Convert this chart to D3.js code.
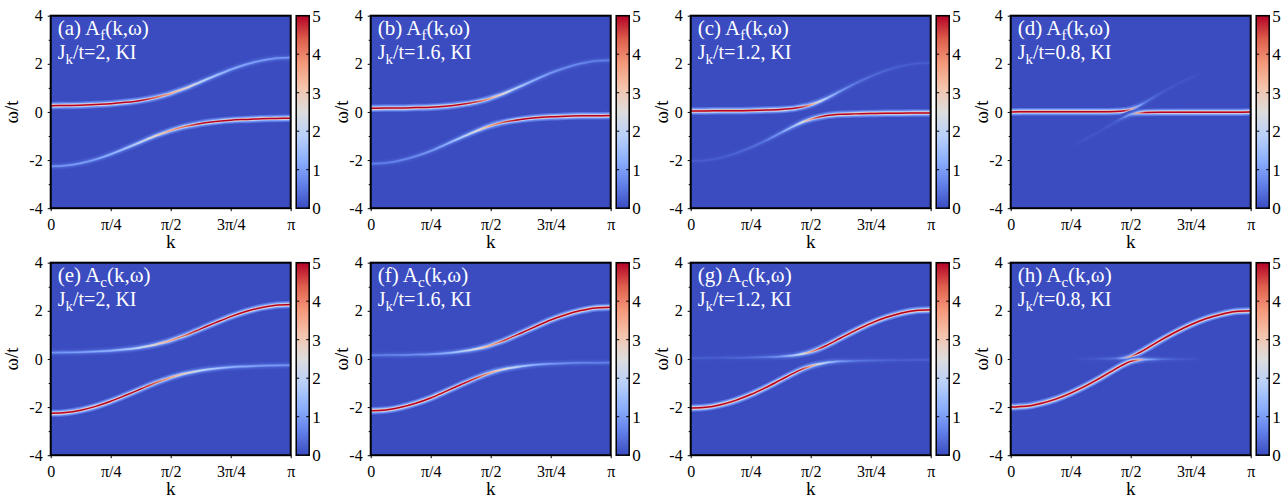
<!DOCTYPE html>
<html><head><meta charset="utf-8">
<script src="https://cdn.jsdelivr.net/npm/d3@7"></script>
<style>
body{margin:0;background:#fff}
svg{display:block}
svg text{font-family:"Liberation Serif","Times New Roman",Tinos,"Nimbus Roman","DejaVu Serif",serif !important}
</style>
</head><body>
<svg id="chart" width="1288" height="499"></svg>
<script>
// ---------- data ----------
// k grid in units of pi
const kGrid = [0,0.0625,0.125,0.1875,0.25,0.3125,0.375,0.4375,0.46875,0.5,0.53125,0.5625,0.625,0.6875,0.75,0.8125,0.875,0.9375,1];
const kTickValues = [0,0.25,0.5,0.75,1];
const kTickLabels = ["0","π/4","π/2","3π/4","π"];
const omegaTicks = [-4,-2,0,2,4];
const omegaMinorTicks = [-3,-1,1,3];
const cbarTicks = [0,1,2,3,4,5];
const jkLabels = ["2","1.6","1.2","0.8"];
const panelLettersF = ["a","b","c","d"];
const panelLettersC = ["e","f","g","h"];

// band energies (omega/t)
const upperJ2  = [0.26,0.27,0.28,0.31,0.34,0.40,0.48,0.60,0.68,0.77,0.88,0.99,1.25,1.51,1.76,1.97,2.13,2.23,2.26];
const lowerJ2  = [-2.26,-2.23,-2.13,-1.97,-1.76,-1.51,-1.25,-0.99,-0.88,-0.77,-0.68,-0.60,-0.48,-0.40,-0.34,-0.31,-0.28,-0.27,-0.26];
const upperJ16 = [0.15,0.16,0.16,0.18,0.20,0.24,0.31,0.41,0.48,0.57,0.68,0.80,1.07,1.35,1.62,1.84,2.01,2.12,2.15];
const lowerJ16 = [-2.15,-2.12,-2.01,-1.84,-1.62,-1.35,-1.07,-0.80,-0.68,-0.57,-0.48,-0.41,-0.31,-0.24,-0.20,-0.18,-0.16,-0.16,-0.15];
const upperJ12 = [0.04,0.04,0.05,0.05,0.06,0.08,0.10,0.16,0.22,0.30,0.41,0.55,0.87,1.19,1.48,1.72,1.90,2.01,2.04];
const lowerJ12 = [-2.04,-2.01,-1.90,-1.72,-1.48,-1.19,-0.87,-0.55,-0.41,-0.30,-0.22,-0.16,-0.10,-0.08,-0.06,-0.05,-0.05,-0.04,-0.04];
const upperJ08 = [0.00,0.01,0.01,0.01,0.01,0.01,0.01,0.02,0.04,0.10,0.24,0.41,0.78,1.12,1.42,1.67,1.85,1.97,2.00];
const lowerJ08 = [-2.00,-1.97,-1.85,-1.67,-1.42,-1.12,-0.78,-0.41,-0.24,-0.10,-0.04,-0.02,-0.01,-0.01,-0.01,-0.01,-0.01,-0.01,0.00];

// f-electron spectral weight of each band (c weight is the remainder)
const upperFwJ2  = [0.90,0.89,0.88,0.86,0.84,0.79,0.72,0.62,0.56,0.50,0.44,0.38,0.28,0.21,0.16,0.13,0.12,0.11,0.10];
const lowerFwJ2  = [0.10,0.11,0.12,0.13,0.16,0.21,0.28,0.38,0.44,0.50,0.56,0.62,0.72,0.79,0.84,0.86,0.88,0.89,0.90];
const upperFwJ16 = [0.93,0.93,0.92,0.91,0.89,0.85,0.78,0.66,0.58,0.50,0.42,0.34,0.22,0.15,0.11,0.09,0.08,0.07,0.07];
const lowerFwJ16 = [0.07,0.07,0.08,0.09,0.11,0.15,0.22,0.34,0.42,0.50,0.58,0.66,0.78,0.85,0.89,0.91,0.92,0.93,0.93];
const upperFwJ12 = [0.98,0.98,0.98,0.97,0.96,0.94,0.89,0.77,0.66,0.50,0.35,0.23,0.11,0.06,0.04,0.03,0.02,0.02,0.02];
const lowerFwJ12 = [0.02,0.02,0.02,0.03,0.04,0.06,0.11,0.23,0.35,0.50,0.66,0.77,0.89,0.94,0.96,0.97,0.98,0.98,0.98];
const upperFwJ08 = [1.00,1.00,1.00,1.00,1.00,0.99,0.98,0.95,0.85,0.50,0.15,0.06,0.02,0.01,0.01,0.00,0.00,0.00,0.00];
const lowerFwJ08 = [0.00,0.00,0.00,0.00,0.00,0.01,0.01,0.02,0.06,0.15,0.50,0.85,0.95,0.98,0.99,1.00,1.00,1.00,1.00];

const colorStops = ["#3b4cc0","#6282ea","#8db0fe","#b8d0f9","#dddddd","#f5c4ad","#f49a7b","#de604d","#b40426"];

// ---------- build ----------
const FONT = '"Liberation Serif","Times New Roman",Tinos,"Nimbus Roman","DejaVu Serif",serif';
const uppers = [upperJ2, upperJ16, upperJ12, upperJ08];
const lowers = [lowerJ2, lowerJ16, lowerJ12, lowerJ08];
const upperFws = [upperFwJ2, upperFwJ16, upperFwJ12, upperFwJ08];
const lowerFws = [lowerFwJ2, lowerFwJ16, lowerFwJ12, lowerFwJ08];

const svg = d3.select("#chart").attr("font-family", FONT);
const defs = svg.append("defs");

const cmap = d3.scaleLinear()
  .domain(d3.range(colorStops.length).map(i => i * 5 / (colorStops.length - 1)))
  .range(colorStops).interpolate(d3.interpolateRgb).clamp(true);

const PW = 240, PH = 192.5;
const colX = [50.7, 370.7, 690.7, 1010.7];
const rowY = [15.7, 262.7];
const peakScale = 7.5;    // spectral value at line centre for unit weight
const weightPow = 0.9;    // visual response of the colour to the weight
const gammaPx = 0.9;      // Lorentzian half width in px
const layerW = [7.5, 5.5, 4.2, 3.2, 2.3, 1.5];
const layerFrac = layerW.map((w, i) => {
  const d = i < layerW.length - 1 ? (w + layerW[i + 1]) / 4 : w / 5;
  return 1 / (1 + (d / gammaPx) ** 2);
});

const blur = defs.append("filter").attr("id", "soft").attr("x", "-5%").attr("y", "-5%").attr("width", "110%").attr("height", "110%");
blur.append("feGaussianBlur").attr("stdDeviation", 0.4);

const cbGrad = defs.append("linearGradient").attr("id", "cbgrad")
  .attr("x1", 0).attr("y1", 1).attr("x2", 0).attr("y2", 0);
colorStops.forEach((c, i) => cbGrad.append("stop").attr("offset", i / (colorStops.length - 1)).attr("stop-color", c));

const fontTick = 16;
let gid = 0;

function drawPanel(row, col) {
  const x0 = colX[col], y0 = rowY[row];
  const g = svg.append("g").attr("transform", `translate(${x0},${y0})`);
  const x = d3.scaleLinear().domain([0, 1]).range([0, PW]);
  const y = d3.scaleLinear().domain([-4, 4]).range([PH, 0]);
  const clipId = `clip${row}${col}`;
  defs.append("clipPath").attr("id", clipId).append("rect").attr("width", PW).attr("height", PH);

  g.append("rect").attr("width", PW).attr("height", PH).attr("fill", cmap(0));

  const bands = g.append("g").attr("clip-path", `url(#${clipId})`).append("g").attr("filter", "url(#soft)");
  const line = d3.line().x(d => x(d[0])).y(d => y(d[1])).curve(d3.curveMonotoneX);

  const bandSets = [
    { e: uppers[col], fw: upperFws[col] },
    { e: lowers[col], fw: lowerFws[col] }
  ];
  bandSets.forEach(b => {
    const w = row === 0 ? b.fw : b.fw.map(v => 1 - v);
    const pts = kGrid.map((k, j) => [k, b.e[j]]);
    layerW.forEach((lw, li) => {
      const id = `lg${gid++}`;
      const gr = defs.append("linearGradient").attr("id", id)
        .attr("gradientUnits", "userSpaceOnUse")
        .attr("x1", x(0)).attr("y1", 0).attr("x2", x(1)).attr("y2", 0);
      kGrid.forEach((k, j) => {
        const peak = peakScale * Math.pow(Math.max(w[j], 0), weightPow);
        gr.append("stop").attr("offset", k).attr("stop-color", cmap(peak * layerFrac[li]));
      });
      bands.append("path").attr("d", line(pts)).attr("fill", "none")
        .attr("stroke", `url(#${id})`).attr("stroke-width", lw);
    });
  });

  // axes
  const ax = g.append("g").attr("transform", `translate(0,${PH})`)
    .call(d3.axisBottom(x).tickValues(kTickValues).tickFormat((d, i) => kTickLabels[i]).tickSize(3).tickPadding(7));
  const ay = g.append("g")
    .call(d3.axisLeft(y).tickValues(omegaTicks).tickFormat(d => d < 0 ? "-" + Math.abs(d) : String(d)).tickSize(3).tickPadding(5));
  const aym = g.append("g")
    .call(d3.axisLeft(y).tickValues(omegaMinorTicks).tickFormat("").tickSize(2));
  [ax, ay, aym].forEach(a => {
    a.attr("font-family", FONT).attr("font-size", fontTick);
    a.select(".domain").remove();
    a.selectAll("line").attr("stroke", "#000").attr("stroke-width", 1);
    a.selectAll("text").attr("fill", "#000");
  });

  g.append("rect").attr("width", PW).attr("height", PH).attr("fill", "none").attr("stroke", "#000").attr("stroke-width", 2);

  // axis labels
  g.append("text").attr("x", PW / 2).attr("y", PH + 40).attr("text-anchor", "middle")
    .attr("font-size", 19).text("k");
  const yl = col === 0 ? -33 : -23;
  g.append("text").attr("transform", `translate(${yl},${PH / 2}) rotate(-90)`).attr("text-anchor", "middle")
    .attr("font-size", 19).text("ω/t");

  // panel text
  const letter = row === 0 ? panelLettersF[col] : panelLettersC[col];
  const t1 = g.append("text").attr("x", 7).attr("y", 19).attr("fill", "#fff").attr("font-size", 21);
  t1.append("tspan").text(`(${letter}) A`);
  t1.append("tspan").attr("font-size", 15).attr("dy", 5).text(row === 0 ? "f" : "c");
  t1.append("tspan").attr("dy", -5).text("(k,ω)");
  const t2 = g.append("text").attr("x", 7).attr("y", 43).attr("fill", "#fff").attr("font-size", 20);
  t2.append("tspan").text("J");
  t2.append("tspan").attr("font-size", 15).attr("dy", 5).text("k");
  t2.append("tspan").attr("dy", -5).text(`/t=${jkLabels[col]}, KI`);

  // colorbar
  const cb = g.append("g").attr("transform", `translate(${PW + 5.5},0)`);
  const cbW = 13;
  const cy = d3.scaleLinear().domain([0, 5]).range([PH, 0]);
  cb.append("rect").attr("width", cbW).attr("height", PH).attr("fill", "url(#cbgrad)");
  cbarTicks.forEach(t => {
    cb.append("line").attr("x1", 0).attr("x2", 3).attr("y1", cy(t)).attr("y2", cy(t)).attr("stroke", "#000");
    cb.append("line").attr("x1", cbW - 3).attr("x2", cbW).attr("y1", cy(t)).attr("y2", cy(t)).attr("stroke", "#000");
    cb.append("text").attr("x", cbW + 3).attr("y", cy(t)).attr("dy", "0.35em")
      .attr("font-size", 17).text(t);
  });
  cb.append("rect").attr("width", cbW).attr("height", PH).attr("fill", "none").attr("stroke", "#000").attr("stroke-width", 1.5);
}

for (let r = 0; r < 2; r++) for (let c = 0; c < 4; c++) drawPanel(r, c);
</script>
</body></html>
